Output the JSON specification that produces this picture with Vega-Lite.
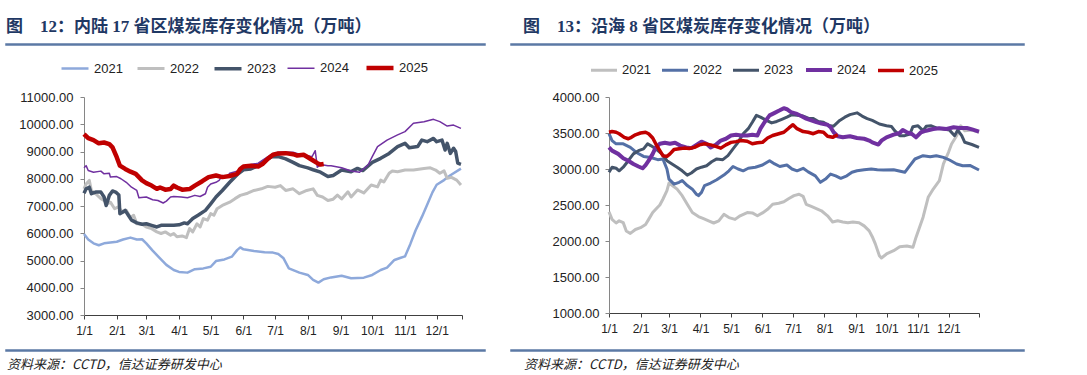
{
"$schema": "https://vega.github.io/schema/vega-lite/v6.json",
"background": "white",
"padding": {"left": 5, "top": 16, "right": 0, "bottom": 0},
"config": {
  "view": {"stroke": null},
  "font": "Liberation Sans",
  "axis": {"grid": false, "title": null, "labelFont": "Liberation Sans", "labelColor": "#222222", "labelOverlap": false, "labelFlush": false, "labelBound": false},
  "legend": {"labelFont": "Liberation Sans", "labelColor": "#222222"}
},
"resolve": {"scale": {"color": "independent", "strokeWidth": "independent"}, "legend": {"color": "independent", "strokeWidth": "independent"}},
"datasets": {
"L": [
{"s":"2021","d":0,"v":5970},{"s":"2021","d":4,"v":5770},{"s":"2021","d":9,"v":5630},{"s":"2021","d":14,"v":5560},{"s":"2021","d":19,"v":5630},{"s":"2021","d":25,"v":5660},{"s":"2021","d":31,"v":5690},{"s":"2021","d":37,"v":5770},{"s":"2021","d":44,"v":5840},{"s":"2021","d":50,"v":5770},{"s":"2021","d":55,"v":5780},{"s":"2021","d":59,"v":5630},{"s":"2021","d":65,"v":5360},{"s":"2021","d":72,"v":5080},{"s":"2021","d":78,"v":4840},{"s":"2021","d":85,"v":4650},{"s":"2021","d":90,"v":4580},{"s":"2021","d":98,"v":4555},{"s":"2021","d":105,"v":4680},{"s":"2021","d":113,"v":4710},{"s":"2021","d":120,"v":4770},{"s":"2021","d":125,"v":4980},{"s":"2021","d":133,"v":5040},{"s":"2021","d":140,"v":5140},{"s":"2021","d":145,"v":5380},{"s":"2021","d":148,"v":5480},{"s":"2021","d":151,"v":5410},{"s":"2021","d":161,"v":5350},{"s":"2021","d":171,"v":5300},{"s":"2021","d":179,"v":5290},{"s":"2021","d":184,"v":5240},{"s":"2021","d":189,"v":5080},{"s":"2021","d":194,"v":4710},{"s":"2021","d":204,"v":4555},{"s":"2021","d":212,"v":4470},{"s":"2021","d":217,"v":4290},{"s":"2021","d":222,"v":4190},{"s":"2021","d":227,"v":4310},{"s":"2021","d":234,"v":4380},{"s":"2021","d":244,"v":4442},{"s":"2021","d":253,"v":4350},{"s":"2021","d":265,"v":4370},{"s":"2021","d":273,"v":4470},{"s":"2021","d":281,"v":4650},{"s":"2021","d":287,"v":4740},{"s":"2021","d":294,"v":5020},{"s":"2021","d":300,"v":5100},{"s":"2021","d":304,"v":5150},{"s":"2021","d":309,"v":5600},{"s":"2021","d":314,"v":6100},{"s":"2021","d":320,"v":6600},{"s":"2021","d":325,"v":7050},{"s":"2021","d":330,"v":7500},{"s":"2021","d":334,"v":7780},{"s":"2021","d":341,"v":7950},{"s":"2021","d":347,"v":8130},{"s":"2021","d":357,"v":8370},
{"s":"2022","d":0,"v":7630},{"s":"2022","d":2,"v":7810},{"s":"2022","d":5,"v":7940},{"s":"2022","d":7,"v":7570},{"s":"2022","d":11,"v":7450},{"s":"2022","d":16,"v":7270},{"s":"2022","d":19,"v":7200},{"s":"2022","d":22,"v":7080},{"s":"2022","d":25,"v":7140},{"s":"2022","d":29,"v":6900},{"s":"2022","d":32,"v":6960},{"s":"2022","d":37,"v":6780},{"s":"2022","d":40,"v":6840},{"s":"2022","d":44,"v":6570},{"s":"2022","d":47,"v":6660},{"s":"2022","d":50,"v":6350},{"s":"2022","d":55,"v":6330},{"s":"2022","d":59,"v":6230},{"s":"2022","d":64,"v":6170},{"s":"2022","d":69,"v":6050},{"s":"2022","d":73,"v":5990},{"s":"2022","d":77,"v":6050},{"s":"2022","d":82,"v":5930},{"s":"2022","d":85,"v":5990},{"s":"2022","d":88,"v":5870},{"s":"2022","d":93,"v":5900},{"s":"2022","d":97,"v":5840},{"s":"2022","d":100,"v":6170},{"s":"2022","d":103,"v":6050},{"s":"2022","d":107,"v":6350},{"s":"2022","d":110,"v":6230},{"s":"2022","d":113,"v":6540},{"s":"2022","d":117,"v":6480},{"s":"2022","d":120,"v":6720},{"s":"2022","d":123,"v":6660},{"s":"2022","d":126,"v":6900},{"s":"2022","d":131,"v":7020},{"s":"2022","d":138,"v":7140},{"s":"2022","d":143,"v":7270},{"s":"2022","d":148,"v":7390},{"s":"2022","d":155,"v":7470},{"s":"2022","d":161,"v":7570},{"s":"2022","d":168,"v":7630},{"s":"2022","d":174,"v":7720},{"s":"2022","d":181,"v":7690},{"s":"2022","d":186,"v":7750},{"s":"2022","d":191,"v":7570},{"s":"2022","d":198,"v":7630},{"s":"2022","d":204,"v":7450},{"s":"2022","d":211,"v":7570},{"s":"2022","d":217,"v":7630},{"s":"2022","d":221,"v":7390},{"s":"2022","d":226,"v":7330},{"s":"2022","d":231,"v":7200},{"s":"2022","d":236,"v":7250},{"s":"2022","d":240,"v":7400},{"s":"2022","d":244,"v":7260},{"s":"2022","d":250,"v":7520},{"s":"2022","d":253,"v":7330},{"s":"2022","d":259,"v":7590},{"s":"2022","d":265,"v":7480},{"s":"2022","d":272,"v":7770},{"s":"2022","d":278,"v":7700},{"s":"2022","d":281,"v":7950},{"s":"2022","d":284,"v":7880},{"s":"2022","d":289,"v":8200},{"s":"2022","d":292,"v":8285},{"s":"2022","d":297,"v":8260},{"s":"2022","d":304,"v":8320},{"s":"2022","d":312,"v":8320},{"s":"2022","d":322,"v":8380},{"s":"2022","d":328,"v":8400},{"s":"2022","d":333,"v":8320},{"s":"2022","d":337,"v":8200},{"s":"2022","d":341,"v":8290},{"s":"2022","d":344,"v":8015},{"s":"2022","d":348,"v":8050},{"s":"2022","d":353,"v":7950},{"s":"2022","d":357,"v":7770},
{"s":"2023","d":0,"v":7470},{"s":"2023","d":2,"v":7630},{"s":"2023","d":5,"v":7690},{"s":"2023","d":7,"v":7450},{"s":"2023","d":11,"v":7510},{"s":"2023","d":16,"v":7510},{"s":"2023","d":19,"v":7330},{"s":"2023","d":21,"v":7020},{"s":"2023","d":24,"v":7390},{"s":"2023","d":27,"v":7550},{"s":"2023","d":30,"v":7510},{"s":"2023","d":33,"v":7400},{"s":"2023","d":34,"v":6720},{"s":"2023","d":37,"v":6780},{"s":"2023","d":39,"v":6840},{"s":"2023","d":42,"v":6660},{"s":"2023","d":45,"v":6480},{"s":"2023","d":50,"v":6380},{"s":"2023","d":55,"v":6330},{"s":"2023","d":59,"v":6350},{"s":"2023","d":64,"v":6290},{"s":"2023","d":69,"v":6230},{"s":"2023","d":73,"v":6290},{"s":"2023","d":78,"v":6290},{"s":"2023","d":85,"v":6290},{"s":"2023","d":90,"v":6310},{"s":"2023","d":95,"v":6380},{"s":"2023","d":98,"v":6350},{"s":"2023","d":103,"v":6540},{"s":"2023","d":108,"v":6660},{"s":"2023","d":115,"v":6840},{"s":"2023","d":120,"v":7080},{"s":"2023","d":125,"v":7330},{"s":"2023","d":131,"v":7570},{"s":"2023","d":138,"v":7870},{"s":"2023","d":145,"v":8150},{"s":"2023","d":151,"v":8330},{"s":"2023","d":158,"v":8360},{"s":"2023","d":165,"v":8480},{"s":"2023","d":171,"v":8670},{"s":"2023","d":178,"v":8810},{"s":"2023","d":184,"v":8810},{"s":"2023","d":191,"v":8730},{"s":"2023","d":198,"v":8600},{"s":"2023","d":204,"v":8480},{"s":"2023","d":212,"v":8400},{"s":"2023","d":217,"v":8330},{"s":"2023","d":224,"v":8240},{"s":"2023","d":231,"v":8080},{"s":"2023","d":236,"v":8120},{"s":"2023","d":244,"v":8320},{"s":"2023","d":253,"v":8260},{"s":"2023","d":259,"v":8380},{"s":"2023","d":264,"v":8300},{"s":"2023","d":273,"v":8600},{"s":"2023","d":281,"v":8750},{"s":"2023","d":289,"v":8930},{"s":"2023","d":297,"v":9180},{"s":"2023","d":304,"v":9300},{"s":"2023","d":308,"v":9140},{"s":"2023","d":316,"v":9180},{"s":"2023","d":320,"v":9420},{"s":"2023","d":325,"v":9360},{"s":"2023","d":331,"v":9480},{"s":"2023","d":334,"v":9360},{"s":"2023","d":339,"v":9420},{"s":"2023","d":342,"v":9055},{"s":"2023","d":344,"v":9300},{"s":"2023","d":347,"v":8930},{"s":"2023","d":350,"v":9120},{"s":"2023","d":352,"v":9000},{"s":"2023","d":354,"v":8570},{"s":"2023","d":357,"v":8530},
{"s":"2024","d":0,"v":8400},{"s":"2024","d":2,"v":8480},{"s":"2024","d":4,"v":8300},{"s":"2024","d":9,"v":8240},{"s":"2024","d":16,"v":8280},{"s":"2024","d":19,"v":8180},{"s":"2024","d":24,"v":8200},{"s":"2024","d":25,"v":8060},{"s":"2024","d":31,"v":8080},{"s":"2024","d":35,"v":8000},{"s":"2024","d":40,"v":7870},{"s":"2024","d":45,"v":7690},{"s":"2024","d":50,"v":7570},{"s":"2024","d":52,"v":7300},{"s":"2024","d":59,"v":7330},{"s":"2024","d":65,"v":7230},{"s":"2024","d":70,"v":7200},{"s":"2024","d":75,"v":7110},{"s":"2024","d":78,"v":7180},{"s":"2024","d":82,"v":7330},{"s":"2024","d":85,"v":7350},{"s":"2024","d":92,"v":7330},{"s":"2024","d":98,"v":7300},{"s":"2024","d":105,"v":7390},{"s":"2024","d":110,"v":7350},{"s":"2024","d":115,"v":7450},{"s":"2024","d":117,"v":7690},{"s":"2024","d":120,"v":7810},{"s":"2024","d":125,"v":7870},{"s":"2024","d":128,"v":7940},{"s":"2024","d":131,"v":8120},{"s":"2024","d":135,"v":8060},{"s":"2024","d":138,"v":8200},{"s":"2024","d":145,"v":8280},{"s":"2024","d":151,"v":8400},{"s":"2024","d":158,"v":8520},{"s":"2024","d":165,"v":8570},{"s":"2024","d":171,"v":8730},{"s":"2024","d":178,"v":8900},{"s":"2024","d":184,"v":8970},{"s":"2024","d":191,"v":8970},{"s":"2024","d":198,"v":8970},{"s":"2024","d":204,"v":8900},{"s":"2024","d":211,"v":8850},{"s":"2024","d":216,"v":8810},{"s":"2024","d":219,"v":9030},{"s":"2024","d":221,"v":8420},{"s":"2024","d":224,"v":8520},{"s":"2024","d":231,"v":8480},{"s":"2024","d":234,"v":8480},{"s":"2024","d":244,"v":8406},{"s":"2024","d":253,"v":8285},{"s":"2024","d":261,"v":8237},{"s":"2024","d":269,"v":8505},{"s":"2024","d":273,"v":8810},{"s":"2024","d":278,"v":9180},{"s":"2024","d":287,"v":9420},{"s":"2024","d":297,"v":9610},{"s":"2024","d":304,"v":9730},{"s":"2024","d":312,"v":10035},{"s":"2024","d":322,"v":10095},{"s":"2024","d":331,"v":10180},{"s":"2024","d":337,"v":10095},{"s":"2024","d":344,"v":9935},{"s":"2024","d":350,"v":9970},{"s":"2024","d":357,"v":9850},
{"s":"2025","d":0,"v":9640},{"s":"2025","d":4,"v":9490},{"s":"2025","d":9,"v":9420},{"s":"2025","d":14,"v":9300},{"s":"2025","d":19,"v":9330},{"s":"2025","d":24,"v":9270},{"s":"2025","d":27,"v":9150},{"s":"2025","d":31,"v":8790},{"s":"2025","d":34,"v":8480},{"s":"2025","d":39,"v":8360},{"s":"2025","d":44,"v":8260},{"s":"2025","d":49,"v":8180},{"s":"2025","d":52,"v":8060},{"s":"2025","d":55,"v":7940},{"s":"2025","d":59,"v":7840},{"s":"2025","d":64,"v":7750},{"s":"2025","d":69,"v":7630},{"s":"2025","d":72,"v":7680},{"s":"2025","d":77,"v":7600},{"s":"2025","d":82,"v":7620},{"s":"2025","d":85,"v":7750},{"s":"2025","d":88,"v":7680},{"s":"2025","d":93,"v":7600},{"s":"2025","d":100,"v":7620},{"s":"2025","d":105,"v":7750},{"s":"2025","d":112,"v":7910},{"s":"2025","d":118,"v":8060},{"s":"2025","d":125,"v":8120},{"s":"2025","d":131,"v":8060},{"s":"2025","d":138,"v":8100},{"s":"2025","d":145,"v":8180},{"s":"2025","d":148,"v":8360},{"s":"2025","d":151,"v":8450},{"s":"2025","d":158,"v":8480},{"s":"2025","d":165,"v":8450},{"s":"2025","d":169,"v":8540},{"s":"2025","d":174,"v":8730},{"s":"2025","d":179,"v":8880},{"s":"2025","d":184,"v":8930},{"s":"2025","d":191,"v":8940},{"s":"2025","d":198,"v":8900},{"s":"2025","d":202,"v":8850},{"s":"2025","d":208,"v":8880},{"s":"2025","d":212,"v":8790},{"s":"2025","d":217,"v":8670},{"s":"2025","d":221,"v":8570},{"s":"2025","d":224,"v":8520},{"s":"2025","d":227,"v":8540}
],
"R": [
{"s":"2021","d":0,"v":2405},{"s":"2021","d":3,"v":2300},{"s":"2021","d":7,"v":2250},{"s":"2021","d":10,"v":2280},{"s":"2021","d":14,"v":2255},{"s":"2021","d":17,"v":2140},{"s":"2021","d":21,"v":2105},{"s":"2021","d":26,"v":2160},{"s":"2021","d":31,"v":2185},{"s":"2021","d":36,"v":2230},{"s":"2021","d":39,"v":2300},{"s":"2021","d":43,"v":2395},{"s":"2021","d":46,"v":2440},{"s":"2021","d":50,"v":2500},{"s":"2021","d":53,"v":2580},{"s":"2021","d":57,"v":2700},{"s":"2021","d":59,"v":2805},{"s":"2021","d":62,"v":2775},{"s":"2021","d":67,"v":2720},{"s":"2021","d":72,"v":2630},{"s":"2021","d":77,"v":2510},{"s":"2021","d":82,"v":2395},{"s":"2021","d":88,"v":2340},{"s":"2021","d":93,"v":2310},{"s":"2021","d":98,"v":2280},{"s":"2021","d":103,"v":2250},{"s":"2021","d":108,"v":2280},{"s":"2021","d":113,"v":2370},{"s":"2021","d":118,"v":2325},{"s":"2021","d":124,"v":2300},{"s":"2021","d":129,"v":2350},{"s":"2021","d":136,"v":2395},{"s":"2021","d":141,"v":2390},{"s":"2021","d":146,"v":2350},{"s":"2021","d":151,"v":2390},{"s":"2021","d":156,"v":2440},{"s":"2021","d":161,"v":2510},{"s":"2021","d":167,"v":2525},{"s":"2021","d":172,"v":2545},{"s":"2021","d":177,"v":2590},{"s":"2021","d":182,"v":2630},{"s":"2021","d":187,"v":2650},{"s":"2021","d":191,"v":2620},{"s":"2021","d":194,"v":2510},{"s":"2021","d":199,"v":2480},{"s":"2021","d":204,"v":2450},{"s":"2021","d":209,"v":2420},{"s":"2021","d":215,"v":2350},{"s":"2021","d":220,"v":2265},{"s":"2021","d":225,"v":2280},{"s":"2021","d":230,"v":2265},{"s":"2021","d":235,"v":2255},{"s":"2021","d":240,"v":2265},{"s":"2021","d":246,"v":2255},{"s":"2021","d":251,"v":2210},{"s":"2021","d":256,"v":2140},{"s":"2021","d":259,"v":2060},{"s":"2021","d":262,"v":1960},{"s":"2021","d":266,"v":1796},{"s":"2021","d":268,"v":1764},{"s":"2021","d":273,"v":1820},{"s":"2021","d":280,"v":1865},{"s":"2021","d":286,"v":1920},{"s":"2021","d":293,"v":1930},{"s":"2021","d":299,"v":1912},{"s":"2021","d":302,"v":2050},{"s":"2021","d":309,"v":2330},{"s":"2021","d":314,"v":2607},{"s":"2021","d":319,"v":2722},{"s":"2021","d":325,"v":2838},{"s":"2021","d":329,"v":3070},{"s":"2021","d":334,"v":3232},{"s":"2021","d":337,"v":3347},{"s":"2021","d":342,"v":3463},{"s":"2021","d":346,"v":3600},{"s":"2021","d":350,"v":3532},{"s":"2021","d":357,"v":3540},{"s":"2021","d":364,"v":3510},
{"s":"2022","d":0,"v":3490},{"s":"2022","d":3,"v":3395},{"s":"2022","d":7,"v":3350},{"s":"2022","d":14,"v":3350},{"s":"2022","d":21,"v":3300},{"s":"2022","d":27,"v":3230},{"s":"2022","d":34,"v":3175},{"s":"2022","d":41,"v":3160},{"s":"2022","d":48,"v":3130},{"s":"2022","d":53,"v":3140},{"s":"2022","d":57,"v":3000},{"s":"2022","d":59,"v":2860},{"s":"2022","d":64,"v":2790},{"s":"2022","d":69,"v":2815},{"s":"2022","d":72,"v":2840},{"s":"2022","d":77,"v":2770},{"s":"2022","d":82,"v":2720},{"s":"2022","d":86,"v":2650},{"s":"2022","d":88,"v":2630},{"s":"2022","d":91,"v":2675},{"s":"2022","d":94,"v":2770},{"s":"2022","d":100,"v":2805},{"s":"2022","d":106,"v":2850},{"s":"2022","d":113,"v":2915},{"s":"2022","d":118,"v":2975},{"s":"2022","d":122,"v":3035},{"s":"2022","d":127,"v":3000},{"s":"2022","d":132,"v":2975},{"s":"2022","d":137,"v":3010},{"s":"2022","d":144,"v":3025},{"s":"2022","d":151,"v":3055},{"s":"2022","d":158,"v":3115},{"s":"2022","d":163,"v":3070},{"s":"2022","d":168,"v":3035},{"s":"2022","d":175,"v":3055},{"s":"2022","d":180,"v":3000},{"s":"2022","d":185,"v":2975},{"s":"2022","d":191,"v":3010},{"s":"2022","d":196,"v":2960},{"s":"2022","d":203,"v":2905},{"s":"2022","d":208,"v":2815},{"s":"2022","d":213,"v":2860},{"s":"2022","d":218,"v":2930},{"s":"2022","d":223,"v":2905},{"s":"2022","d":228,"v":2870},{"s":"2022","d":234,"v":2905},{"s":"2022","d":239,"v":2955},{"s":"2022","d":244,"v":2975},{"s":"2022","d":251,"v":2990},{"s":"2022","d":258,"v":3000},{"s":"2022","d":264,"v":2990},{"s":"2022","d":270,"v":2986},{"s":"2022","d":280,"v":2990},{"s":"2022","d":291,"v":2954},{"s":"2022","d":296,"v":3046},{"s":"2022","d":301,"v":3139},{"s":"2022","d":309,"v":3185},{"s":"2022","d":316,"v":3170},{"s":"2022","d":322,"v":3185},{"s":"2022","d":329,"v":3162},{"s":"2022","d":335,"v":3125},{"s":"2022","d":342,"v":3070},{"s":"2022","d":348,"v":3046},{"s":"2022","d":355,"v":3050},{"s":"2022","d":364,"v":2986},
{"s":"2023","d":0,"v":2955},{"s":"2023","d":3,"v":3025},{"s":"2023","d":7,"v":3010},{"s":"2023","d":10,"v":2975},{"s":"2023","d":14,"v":3025},{"s":"2023","d":19,"v":3115},{"s":"2023","d":24,"v":3210},{"s":"2023","d":29,"v":3255},{"s":"2023","d":34,"v":3280},{"s":"2023","d":38,"v":3350},{"s":"2023","d":41,"v":3325},{"s":"2023","d":46,"v":3280},{"s":"2023","d":52,"v":3210},{"s":"2023","d":57,"v":3115},{"s":"2023","d":62,"v":3070},{"s":"2023","d":67,"v":3025},{"s":"2023","d":72,"v":2975},{"s":"2023","d":77,"v":2915},{"s":"2023","d":81,"v":2945},{"s":"2023","d":86,"v":3000},{"s":"2023","d":91,"v":3025},{"s":"2023","d":96,"v":3045},{"s":"2023","d":101,"v":3100},{"s":"2023","d":106,"v":3140},{"s":"2023","d":112,"v":3130},{"s":"2023","d":117,"v":3185},{"s":"2023","d":122,"v":3280},{"s":"2023","d":127,"v":3370},{"s":"2023","d":132,"v":3490},{"s":"2023","d":137,"v":3560},{"s":"2023","d":141,"v":3650},{"s":"2023","d":145,"v":3745},{"s":"2023","d":149,"v":3720},{"s":"2023","d":155,"v":3675},{"s":"2023","d":160,"v":3640},{"s":"2023","d":165,"v":3660},{"s":"2023","d":170,"v":3690},{"s":"2023","d":175,"v":3720},{"s":"2023","d":180,"v":3755},{"s":"2023","d":185,"v":3745},{"s":"2023","d":191,"v":3735},{"s":"2023","d":196,"v":3705},{"s":"2023","d":201,"v":3700},{"s":"2023","d":206,"v":3660},{"s":"2023","d":211,"v":3650},{"s":"2023","d":216,"v":3605},{"s":"2023","d":221,"v":3595},{"s":"2023","d":227,"v":3675},{"s":"2023","d":232,"v":3720},{"s":"2023","d":237,"v":3755},{"s":"2023","d":244,"v":3780},{"s":"2023","d":249,"v":3735},{"s":"2023","d":254,"v":3700},{"s":"2023","d":259,"v":3675},{"s":"2023","d":266,"v":3625},{"s":"2023","d":273,"v":3600},{"s":"2023","d":278,"v":3590},{"s":"2023","d":281,"v":3532},{"s":"2023","d":286,"v":3463},{"s":"2023","d":291,"v":3463},{"s":"2023","d":296,"v":3486},{"s":"2023","d":299,"v":3588},{"s":"2023","d":304,"v":3600},{"s":"2023","d":309,"v":3532},{"s":"2023","d":312,"v":3593},{"s":"2023","d":317,"v":3600},{"s":"2023","d":322,"v":3570},{"s":"2023","d":329,"v":3556},{"s":"2023","d":335,"v":3540},{"s":"2023","d":340,"v":3463},{"s":"2023","d":343,"v":3540},{"s":"2023","d":347,"v":3463},{"s":"2023","d":350,"v":3371},{"s":"2023","d":357,"v":3340},{"s":"2023","d":364,"v":3301},
{"s":"2024","d":0,"v":3300},{"s":"2024","d":3,"v":3255},{"s":"2024","d":9,"v":3210},{"s":"2024","d":14,"v":3150},{"s":"2024","d":19,"v":3115},{"s":"2024","d":24,"v":3070},{"s":"2024","d":29,"v":3035},{"s":"2024","d":33,"v":3010},{"s":"2024","d":36,"v":3055},{"s":"2024","d":39,"v":3115},{"s":"2024","d":43,"v":3210},{"s":"2024","d":46,"v":3300},{"s":"2024","d":50,"v":3350},{"s":"2024","d":55,"v":3365},{"s":"2024","d":60,"v":3350},{"s":"2024","d":65,"v":3365},{"s":"2024","d":70,"v":3325},{"s":"2024","d":76,"v":3300},{"s":"2024","d":81,"v":3290},{"s":"2024","d":86,"v":3335},{"s":"2024","d":91,"v":3380},{"s":"2024","d":96,"v":3350},{"s":"2024","d":100,"v":3300},{"s":"2024","d":105,"v":3335},{"s":"2024","d":110,"v":3395},{"s":"2024","d":115,"v":3420},{"s":"2024","d":120,"v":3465},{"s":"2024","d":125,"v":3475},{"s":"2024","d":130,"v":3465},{"s":"2024","d":136,"v":3465},{"s":"2024","d":141,"v":3475},{"s":"2024","d":146,"v":3465},{"s":"2024","d":149,"v":3560},{"s":"2024","d":153,"v":3650},{"s":"2024","d":158,"v":3745},{"s":"2024","d":163,"v":3780},{"s":"2024","d":168,"v":3815},{"s":"2024","d":172,"v":3845},{"s":"2024","d":175,"v":3830},{"s":"2024","d":179,"v":3790},{"s":"2024","d":184,"v":3770},{"s":"2024","d":189,"v":3735},{"s":"2024","d":194,"v":3700},{"s":"2024","d":199,"v":3675},{"s":"2024","d":204,"v":3650},{"s":"2024","d":209,"v":3630},{"s":"2024","d":215,"v":3615},{"s":"2024","d":218,"v":3580},{"s":"2024","d":221,"v":3510},{"s":"2024","d":225,"v":3455},{"s":"2024","d":230,"v":3440},{"s":"2024","d":237,"v":3455},{"s":"2024","d":244,"v":3430},{"s":"2024","d":251,"v":3420},{"s":"2024","d":256,"v":3395},{"s":"2024","d":259,"v":3370},{"s":"2024","d":265,"v":3340},{"s":"2024","d":268,"v":3393},{"s":"2024","d":273,"v":3440},{"s":"2024","d":280,"v":3477},{"s":"2024","d":286,"v":3500},{"s":"2024","d":289,"v":3542},{"s":"2024","d":293,"v":3510},{"s":"2024","d":298,"v":3486},{"s":"2024","d":302,"v":3440},{"s":"2024","d":307,"v":3510},{"s":"2024","d":312,"v":3532},{"s":"2024","d":319,"v":3556},{"s":"2024","d":325,"v":3565},{"s":"2024","d":332,"v":3556},{"s":"2024","d":339,"v":3579},{"s":"2024","d":345,"v":3570},{"s":"2024","d":352,"v":3570},{"s":"2024","d":358,"v":3546},{"s":"2024","d":364,"v":3520},
{"s":"2025","d":0,"v":3510},{"s":"2025","d":3,"v":3520},{"s":"2025","d":7,"v":3510},{"s":"2025","d":10,"v":3490},{"s":"2025","d":15,"v":3440},{"s":"2025","d":19,"v":3420},{"s":"2025","d":22,"v":3440},{"s":"2025","d":26,"v":3475},{"s":"2025","d":31,"v":3500},{"s":"2025","d":36,"v":3510},{"s":"2025","d":39,"v":3490},{"s":"2025","d":43,"v":3430},{"s":"2025","d":46,"v":3350},{"s":"2025","d":50,"v":3255},{"s":"2025","d":53,"v":3185},{"s":"2025","d":57,"v":3175},{"s":"2025","d":60,"v":3210},{"s":"2025","d":64,"v":3270},{"s":"2025","d":69,"v":3280},{"s":"2025","d":74,"v":3290},{"s":"2025","d":79,"v":3285},{"s":"2025","d":84,"v":3300},{"s":"2025","d":89,"v":3335},{"s":"2025","d":94,"v":3350},{"s":"2025","d":100,"v":3335},{"s":"2025","d":105,"v":3315},{"s":"2025","d":110,"v":3290},{"s":"2025","d":115,"v":3335},{"s":"2025","d":120,"v":3370},{"s":"2025","d":125,"v":3380},{"s":"2025","d":130,"v":3395},{"s":"2025","d":136,"v":3385},{"s":"2025","d":141,"v":3350},{"s":"2025","d":146,"v":3365},{"s":"2025","d":151,"v":3370},{"s":"2025","d":156,"v":3430},{"s":"2025","d":161,"v":3465},{"s":"2025","d":167,"v":3490},{"s":"2025","d":172,"v":3510},{"s":"2025","d":177,"v":3570},{"s":"2025","d":181,"v":3615},{"s":"2025","d":185,"v":3560},{"s":"2025","d":191,"v":3520},{"s":"2025","d":196,"v":3510},{"s":"2025","d":201,"v":3490},{"s":"2025","d":206,"v":3520},{"s":"2025","d":211,"v":3510},{"s":"2025","d":215,"v":3455},{"s":"2025","d":220,"v":3440},{"s":"2025","d":225,"v":3475}
]
},
"spacing": 24,
"hconcat": [
 {"spacing": 1, "columns": 1, "align": "none",
  "resolve": {"scale": {"color": "independent", "strokeWidth": "independent"}, "legend": {"color": "independent", "strokeWidth": "independent"}},
  "concat": [
  {"width": 479, "height": 1, "data": {"values": [{}]}, "mark": {"type": "text"}, "encoding": {"text": {"value": ""}},
   "view": {"stroke": "#5B79A5", "strokeWidth": 1.5},
   "title": {"text": "图　12：内陆 17 省区煤炭库存变化情况（万吨）", "orient": "top", "anchor": "start", "offset": 3, "font": "Liberation Serif, Noto Sans CJK SC", "fontSize": 17, "fontWeight": "bold", "color": "#1F3864"}},
  {"spacing": 0,
   "resolve": {"scale": {"color": "independent", "strokeWidth": "independent"}, "legend": {"color": "independent", "strokeWidth": "independent"}},
   "hconcat": [
   {"width": 1, "height": 1, "data": {"values": [{}]}, "mark": {"type": "text"}, "encoding": {"text": {"value": ""}}},
   {"width": 378, "height": 218, "data": {"name": "L"},
   "mark": {"type": "line", "strokeJoin": "round"},
   "encoding": {
    "x": {"field": "d", "type": "quantitative", "scale": {"domain": [0, 358], "nice": false, "zero": false},
      "axis": {"values": [0,31,59,90,120,151,181,212,243,273,304,334,358], "labelExpr": "['1/1','2/1','3/1','4/1','5/1','6/1','7/1','8/1','9/1','10/1','11/1','12/1',''][indexof([0,31,59,90,120,151,181,212,243,273,304,334,358], datum.value)]", "domainColor": "#404040", "tickColor": "#404040", "tickSize": 4, "labelPadding": 6, "labelFontSize": 12, "minExtent": 27}},
    "y": {"field": "v", "type": "quantitative", "scale": {"domain": [3000, 11000], "nice": false, "zero": false},
      "axis": {"values": [3000,4000,5000,6000,7000,8000,9000,10000,11000], "format": ".2f", "domainColor": "#868686", "tickColor": "#868686", "tickSize": 4, "labelPadding": 7, "labelFontSize": 13, "minExtent": 77}},
    "color": {"field": "s", "type": "nominal", "scale": {"domain": ["2021","2022","2023","2024","2025"], "range": ["#8EA9DB","#BFBFBF","#44546A","#7030A0","#C00000"]},
      "legend": {"orient": "none", "legendX": -25, "legendY": -45, "direction": "horizontal", "columns": 5, "title": null, "symbolType": "stroke", "symbolSize": 729, "labelFontSize": 13, "columnPadding": 8, "labelOffset": 3}},
    "strokeWidth": {"field": "s", "type": "nominal", "scale": {"type": "ordinal", "domain": ["2021","2022","2023","2024","2025"], "range": [2.5,3,3.5,1.5,4.5]},
      "legend": {"orient": "none", "legendX": -25, "legendY": -45, "direction": "horizontal", "columns": 5, "title": null, "symbolType": "stroke", "symbolSize": 729, "labelFontSize": 13, "columnPadding": 8, "labelOffset": 3}}
   }}]},
  {"width": 479, "height": 1, "data": {"values": [{}]}, "mark": {"type": "text"}, "encoding": {"text": {"value": ""}},
   "view": {"stroke": "#5B79A5", "strokeWidth": 1.5},
   "title": {"text": "资料来源：CCTD，信达证券研发中心", "orient": "bottom", "anchor": "start", "offset": 3, "dx": 1, "font": "Noto Sans CJK SC", "fontSize": 13, "fontStyle": "italic", "fontWeight": "normal", "color": "#222222"}}
 ]},
 {"spacing": 4, "columns": 1, "align": "none",
  "resolve": {"scale": {"color": "independent", "strokeWidth": "independent"}, "legend": {"color": "independent", "strokeWidth": "independent"}},
  "concat": [
  {"width": 513, "height": 1, "data": {"values": [{}]}, "mark": {"type": "text"}, "encoding": {"text": {"value": ""}},
   "view": {"stroke": "#5B79A5", "strokeWidth": 1.5},
   "title": {"text": "图　13：沿海 8 省区煤炭库存变化情况（万吨）", "orient": "top", "anchor": "start", "offset": 3, "dx": 12, "font": "Liberation Serif, Noto Sans CJK SC", "fontSize": 17, "fontWeight": "bold", "color": "#1F3864"}},
  {"spacing": 0,
   "resolve": {"scale": {"color": "independent", "strokeWidth": "independent"}, "legend": {"color": "independent", "strokeWidth": "independent"}},
   "hconcat": [
   {"width": 1, "height": 1, "data": {"values": [{}]}, "mark": {"type": "text"}, "encoding": {"text": {"value": ""}}},
   {"width": 370, "height": 216, "data": {"name": "R"},
   "mark": {"type": "line", "strokeJoin": "round"},
   "encoding": {
    "x": {"field": "d", "type": "quantitative", "scale": {"domain": [0, 364], "nice": false, "zero": false},
      "axis": {"values": [0,31,59,90,120,151,181,212,243,273,304,334,364], "labelExpr": "['1/1','2/1','3/1','4/1','5/1','6/1','7/1','8/1','9/1','10/1','11/1','12/1',''][indexof([0,31,59,90,120,151,181,212,243,273,304,334,364], datum.value)]", "domainColor": "#404040", "tickColor": "#404040", "tickSize": 4, "labelPadding": 6, "labelFontSize": 12, "minExtent": 26}},
    "y": {"field": "v", "type": "quantitative", "scale": {"domain": [1000, 4000], "nice": false, "zero": false},
      "axis": {"values": [1000,1500,2000,2500,3000,3500,4000], "format": ".2f", "domainColor": "#868686", "tickColor": "#868686", "tickSize": 4, "labelPadding": 6, "labelFontSize": 13, "minExtent": 97}},
    "color": {"field": "s", "type": "nominal", "scale": {"domain": ["2021","2022","2023","2024","2025"], "range": ["#BFBFBF","#5470A6","#44546A","#7030A0","#C00000"]},
      "legend": {"orient": "none", "legendX": -20, "legendY": -42, "direction": "horizontal", "columns": 5, "title": null, "symbolType": "stroke", "symbolSize": 676, "labelFontSize": 13, "columnPadding": 5, "labelOffset": 3}},
    "strokeWidth": {"field": "s", "type": "nominal", "scale": {"type": "ordinal", "domain": ["2021","2022","2023","2024","2025"], "range": [3,3,3,4,3.5]},
      "legend": {"orient": "none", "legendX": -20, "legendY": -42, "direction": "horizontal", "columns": 5, "title": null, "symbolType": "stroke", "symbolSize": 676, "labelFontSize": 13, "columnPadding": 5, "labelOffset": 3}}
   }}]},
  {"width": 513, "height": 1, "data": {"values": [{}]}, "mark": {"type": "text"}, "encoding": {"text": {"value": ""}},
   "view": {"stroke": "#5B79A5", "strokeWidth": 1.5},
   "title": {"text": "资料来源：CCTD，信达证券研发中心", "orient": "bottom", "anchor": "start", "offset": 3, "dx": 13, "font": "Noto Sans CJK SC", "fontSize": 13, "fontStyle": "italic", "fontWeight": "normal", "color": "#222222"}}
 ]}
]
}
